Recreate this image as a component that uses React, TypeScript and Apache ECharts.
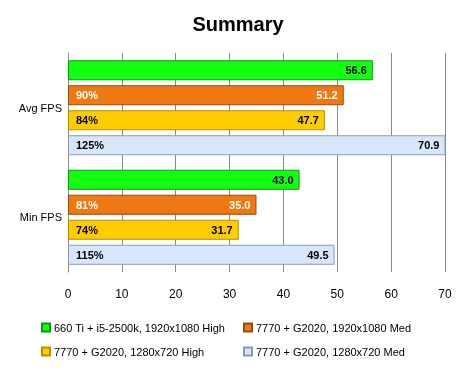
import React, { useEffect, useRef } from "react";
import * as echarts from "echarts";

const categories = ["Avg FPS", "Min FPS"];
const seriesNames = [
  "660 Ti + i5-2500k, 1920x1080 High",
  "7770 + G2020, 1920x1080 Med",
  "7770 + G2020, 1280x720 High",
  "7770 + G2020, 1280x720 Med",
];
const green = [56.6, 43.0];
const orange = [51.2, 35.0];
const yellow = [47.7, 31.7];
const blue = [70.9, 49.5];
const greenPct = ["", ""];
const orangePct = ["90%", "81%"];
const yellowPct = ["84%", "74%"];
const bluePct = ["125%", "115%"];
const xTicks = [0, 10, 20, 30, 40, 50, 60, 70];

const values = [green, orange, yellow, blue];
const pcts = [greenPct, orangePct, yellowPct, bluePct];
const colors = ["#12ff12", "#f07812", "#ffcc00", "#d6e7fb"];
const borders = ["#0a9a0a", "#9a4a0e", "#b88f00", "#8c9ab0"];
const labelColors = ["#000", "#fff", "#000", "#000"];

const FONT = "Liberation Sans";

export default function App() {
  const ref = useRef<HTMLDivElement>(null);
  useEffect(() => {
    const chart = echarts.init(ref.current!, null, { renderer: "svg" });
    const barCommon = { barWidth: 20, barGap: "25%", barCategoryGap: "13%" };
    const mainSeries = values.map((vals, i) => ({
      type: "bar",
      name: seriesNames[i],
      yAxisIndex: 0,
      data: vals,
      ...barCommon,
      itemStyle: { color: colors[i], borderColor: borders[i], borderWidth: 1 },
      label: {
        show: true,
        position: "insideRight",
        distance: 6,
        formatter: (p: any) => p.value.toFixed(1),
        color: labelColors[i],
        fontFamily: FONT,
        fontSize: 11,
        fontWeight: "bold",
      },
    }));
    const pctSeries = values.map((vals, i) => ({
      type: "bar",
      name: "pct" + i,
      yAxisIndex: 1,
      data: vals,
      ...barCommon,
      silent: true,
      itemStyle: { color: "transparent" },
      label: {
        show: true,
        position: "insideLeft",
        distance: 8,
        formatter: (p: any) => pcts[i][p.dataIndex],
        color: labelColors[i],
        fontFamily: FONT,
        fontSize: 11,
        fontWeight: "bold",
      },
    }));
    const legendPos = [
      [41, 322],
      [243, 322],
      [41, 346],
      [243, 346],
    ];
    chart.setOption({
      animation: false,
      title: {
        text: "Summary",
        left: "center",
        top: 9,
        textStyle: { fontFamily: FONT, fontSize: 20, fontWeight: "bold", color: "#000" },
      },
      legend: seriesNames.map((n, i) => ({
        data: [n],
        left: legendPos[i][0],
        top: legendPos[i][1],
        icon: "rect",
        itemWidth: 8,
        itemHeight: 8,
        itemGap: 0,
        padding: 0,
        selectedMode: false,
        textStyle: { fontFamily: FONT, fontSize: 11, color: "#000", padding: [0, 0, 0, -1] },
      })),
      grid: { left: 68, right: 31, top: 53, bottom: 96 },
      xAxis: {
        type: "value",
        min: 0,
        max: 70,
        interval: 10,
        axisLine: { show: false },
        axisTick: { show: false },
        splitLine: { show: true, lineStyle: { color: "#8a8a8a", width: 1 } },
        axisLabel: {
          margin: 16,
          fontFamily: FONT,
          fontSize: 12,
          color: "#000",
          formatter: (v: number) => (xTicks.includes(v) ? String(v) : ""),
        },
      },
      yAxis: [
        {
          type: "category",
          data: categories,
          inverse: true,
          axisLine: { show: true, lineStyle: { color: "#8a8a8a" } },
          axisTick: { show: false },
          axisLabel: { fontFamily: FONT, fontSize: 11, color: "#000", margin: 6 },
        },
        {
          type: "category",
          data: categories,
          inverse: true,
          position: "left",
          show: false,
        },
      ],
      series: [...mainSeries, ...pctSeries],
    });
    return () => chart.dispose();
  }, []);
  return (
    <div
      ref={ref}
      style={{ position: "fixed", left: 0, top: 0, width: 476, height: 368 }}
    />
  );
}
